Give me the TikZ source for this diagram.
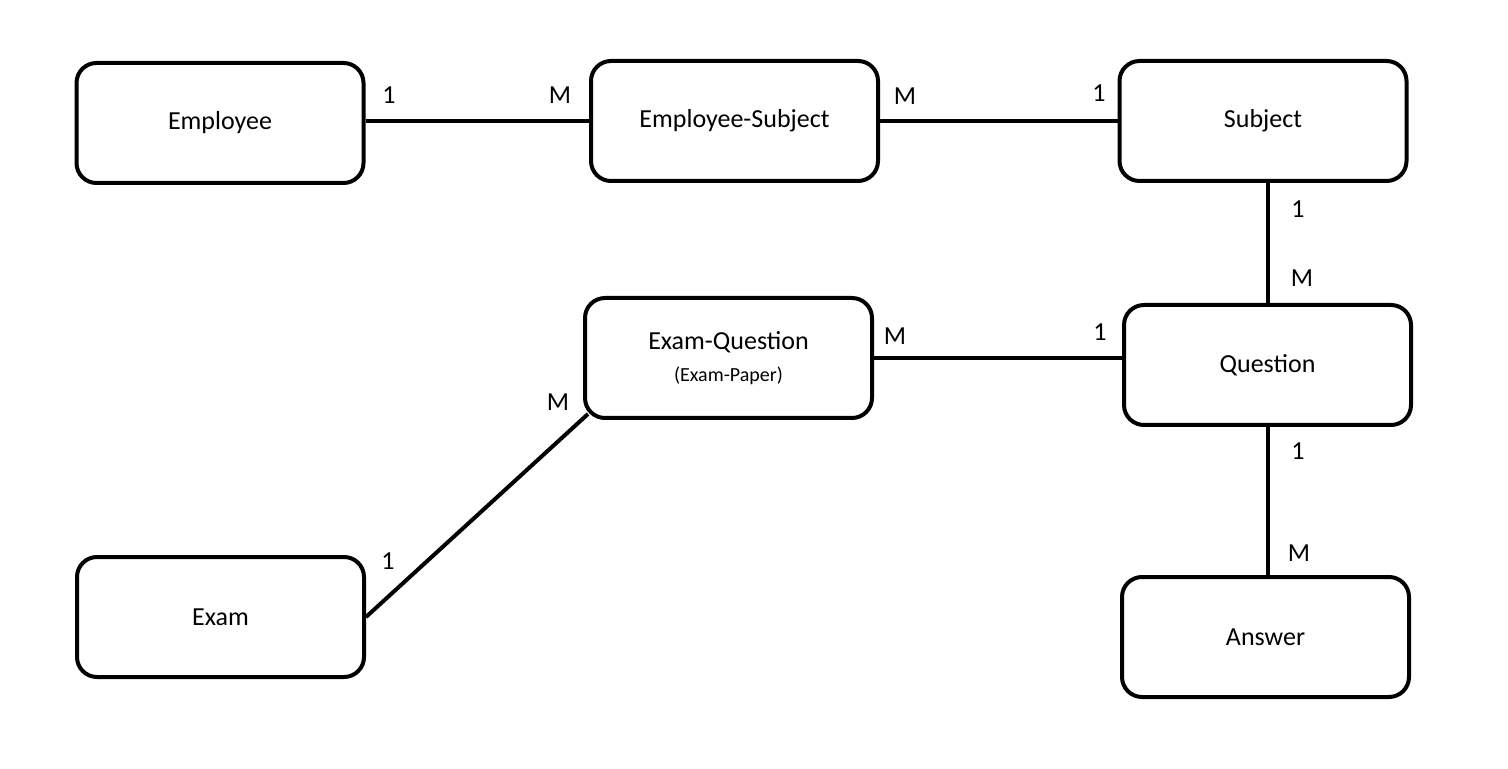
\documentclass[tikz,border=0pt]{standalone}
\usepackage{fontspec}
\setmainfont{Carlito}
\begin{document}
\begin{tikzpicture}[
    x=0.5pt, y=-0.5pt,
    entity/.style={draw=black, line width=2pt, rounded corners=10pt,
        minimum width=143.5pt, minimum height=60pt, align=center,
        font=\fontsize{13}{15}\selectfont},
    relline/.style={black, line width=2pt},
    card/.style={font=\fontsize{13}{15}\selectfont, inner sep=0pt},
]

% ── Frame ───────────────────────────────────────────────────
\useasboundingbox (0,0) rectangle (1508,769);

% ── Entities ────────────────────────────────────────────────
\node[entity] (emp)  at (220,123)    {Employee};
\node[entity] (es)   at (734.5,121)  {Employee-Subject};
\node[entity] (subj) at (1263,121)   {Subject};
\node[entity] (eq)   at (728.5,358)
    {Exam-Question\\[1pt]{\fontsize{10}{12}\selectfont (Exam-Paper)}};
\node[entity] (q)    at (1267.5,365) {Question};
\node[entity] (exam) at (220.5,617)  {Exam};
\node[entity] (ans)  at (1265.5,637) {Answer};

% corner of Exam-Question where the Exam line meets it
\coordinate (eqcorner) at ([xshift=2.5pt, yshift=3pt]eq.south west);

% ── Relationships ───────────────────────────────────────────
\draw[relline] (es.west -| emp.east) -- (es.west);
\draw[relline] (es.east) -- (es.east -| subj.west);
\draw[relline] (q.north |- subj.south) -- (q.north);
\draw[relline] (eq.east) -- (eq.east -| q.west);
\draw[relline] (exam.east) -- (eqcorner);
\draw[relline] (q.south) -- (q.south |- ans.north);

% ── Cardinalities ───────────────────────────────────────────
\foreach \n/\x/\y/\t in {c1/389/95/1, c2/560/95/M, c3/905/96/M, c4/1099/93/1,
    c5/1298/209/1, c6/1302/278/M, c7/895/336/M, c8/1100/332/1,
    c9/558/402/M, c10/388/561/1, c11/1298/451/1, c12/1299/553/M} {
    \node[card] (\n) at (\x,\y) {\t};
}

\end{tikzpicture}
\end{document}
